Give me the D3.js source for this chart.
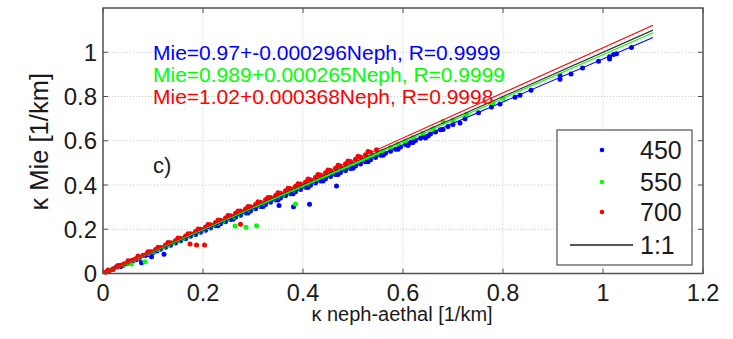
<!DOCTYPE html>
<html>
<head>
<meta charset="utf-8">
<script src="https://cdn.jsdelivr.net/npm/d3@7"></script>
<style>
  body { margin: 0; background: #fff; }
  text { font-family: "Liberation Sans", Arial, sans-serif; }
</style>
</head>
<body>
<svg id="chart" width="733" height="339"></svg>
<script>
// wavelengths and colours
const series = ["450", "550", "700"];
const colors = ["#0000ff", "#00ff00", "#ff0000"];

// linear fits (slope, offset) per wavelength
const fitSlope = [0.97, 0.989, 1.02];
const fitOffset = [-0.000296, 0.000265, 0.000368];
const fitLabels = [
  "Mie=0.97+-0.000296Neph, R=0.9999",
  "Mie=0.989+0.000265Neph, R=0.9999",
  "Mie=1.02+0.000368Neph, R=0.9998"
];
const fitRange = [0, 1.1];

const xTicks = [0, 0.2, 0.4, 0.6, 0.8, 1, 1.2];
const yTicks = [0, 0.2, 0.4, 0.6, 0.8, 1];

// points [neph, mie]
const pts450 = [
  [0.012,0.010],[0.02,0.018],[0.027,0.030],[0.035,0.030],[0.04,0.036],[0.048,0.044],[0.055,0.050],
  [0.06,0.056],[0.066,0.062],[0.072,0.066],[0.077,0.049],[0.084,0.080],[0.09,0.085],[0.097,0.076],
  [0.1,0.095],[0.108,0.102],[0.115,0.110],[0.122,0.087],[0.125,0.119],[0.135,0.128],[0.145,0.138],
  [0.155,0.148],[0.165,0.157],[0.175,0.168],[0.185,0.176],[0.195,0.186],[0.205,0.196],[0.215,0.206],
  [0.225,0.216],[0.235,0.225],[0.245,0.234],[0.255,0.244],[0.265,0.254],[0.275,0.263],[0.285,0.273],
  [0.295,0.283],[0.305,0.293],[0.315,0.303],[0.325,0.312],[0.335,0.322],[0.345,0.332],[0.352,0.307],
  [0.355,0.341],[0.365,0.351],[0.375,0.361],[0.381,0.302],[0.385,0.370],[0.395,0.380],[0.405,0.390],
  [0.413,0.313],[0.415,0.399],[0.425,0.409],[0.435,0.418],[0.445,0.428],[0.455,0.438],[0.465,0.447],
  [0.467,0.396],[0.475,0.456],[0.485,0.466],[0.495,0.475],[0.505,0.486],[0.515,0.495],[0.525,0.505],
  [0.535,0.514],[0.545,0.524],[0.555,0.534],[0.565,0.543],[0.575,0.553],[0.585,0.562],[0.595,0.572],
  [0.605,0.583],[0.615,0.592],[0.625,0.601],[0.635,0.611],[0.641,0.619],[0.655,0.630],[0.665,0.640],
  [0.675,0.650],[0.69,0.664],[0.70,0.674],[0.714,0.680],[0.724,0.700],[0.751,0.726],[0.777,0.752],
  [0.794,0.766],[0.824,0.797],[0.834,0.806],[0.856,0.828],[0.914,0.895],[0.914,0.878],[0.936,0.902],
  [0.959,0.929],[0.991,0.959],[1.013,0.980],[1.013,0.970],[1.021,0.990],[1.027,0.993],[1.057,1.022],
  [0.23,0.216],[0.26,0.245],[0.29,0.274],[0.32,0.303],[0.35,0.332],[0.38,0.361],[0.41,0.389],
  [0.44,0.418],[0.47,0.447],[0.50,0.476],[0.53,0.505],[0.56,0.534],[0.59,0.562],[0.62,0.592],
  [0.65,0.621],[0.68,0.651],[0.61,0.579],[0.645,0.612]
];
const pts550 = [
  [0.01,0.010],[0.02,0.020],[0.03,0.030],[0.04,0.040],[0.05,0.046],[0.057,0.043],[0.062,0.061],
  [0.07,0.069],[0.08,0.079],[0.084,0.053],[0.09,0.089],[0.1,0.099],[0.11,0.108],[0.12,0.119],
  [0.13,0.128],[0.14,0.139],[0.15,0.148],[0.16,0.158],[0.17,0.168],[0.18,0.178],[0.19,0.188],
  [0.20,0.198],[0.21,0.207],[0.22,0.218],[0.23,0.227],[0.24,0.237],[0.25,0.247],[0.26,0.257],
  [0.264,0.215],[0.27,0.267],[0.28,0.276],[0.286,0.209],[0.29,0.287],[0.30,0.296],[0.307,0.216],
  [0.31,0.306],[0.32,0.316],[0.33,0.326],[0.34,0.336],[0.35,0.346],[0.36,0.356],[0.37,0.366],
  [0.38,0.376],[0.385,0.314],[0.39,0.386],[0.40,0.396],[0.41,0.405],[0.42,0.415],[0.43,0.426],
  [0.44,0.435],[0.45,0.445],[0.46,0.455],[0.47,0.465],[0.48,0.475],[0.49,0.484],[0.50,0.495],
  [0.51,0.505],[0.52,0.514],[0.53,0.524],[0.54,0.534],[0.55,0.545],[0.56,0.554],[0.575,0.569],
  [0.59,0.584],[0.605,0.599],[0.62,0.614],[0.64,0.634],[0.66,0.654],[0.68,0.687],[0.70,0.693],
  [0.727,0.720],[0.78,0.772],[0.80,0.792]
];
const pts700 = [
  [0.005,0.006],[0.012,0.013],[0.02,0.021],[0.028,0.029],[0.035,0.037],[0.042,0.044],[0.05,0.052],
  [0.058,0.060],[0.065,0.067],[0.072,0.075],[0.08,0.083],[0.088,0.090],[0.095,0.098],[0.105,0.108],
  [0.115,0.118],[0.125,0.129],[0.135,0.139],[0.145,0.149],[0.155,0.159],[0.165,0.169],[0.174,0.133],
  [0.175,0.180],[0.185,0.190],[0.187,0.129],[0.195,0.200],[0.203,0.129],[0.205,0.210],[0.215,0.220],
  [0.225,0.231],[0.235,0.241],[0.245,0.251],[0.255,0.261],[0.265,0.272],[0.275,0.223],[0.275,0.282],
  [0.285,0.292],[0.295,0.302],[0.305,0.312],[0.315,0.322],[0.325,0.333],[0.335,0.343],[0.345,0.353],
  [0.355,0.363],[0.365,0.374],[0.375,0.384],[0.385,0.394],[0.395,0.404],[0.405,0.414],[0.415,0.424],
  [0.425,0.435],[0.435,0.445],[0.445,0.455],[0.455,0.466],[0.465,0.476],[0.475,0.486],[0.485,0.496],
  [0.495,0.506],[0.505,0.516],[0.515,0.527],[0.525,0.537],[0.535,0.548],[0.547,0.559],
  [0.01,0.016],[0.03,0.036],[0.05,0.058],[0.07,0.079],[0.09,0.098],[0.11,0.119],[0.13,0.140],
  [0.15,0.160],[0.17,0.180],[0.19,0.201],[0.21,0.221],[0.23,0.242],[0.25,0.262],[0.27,0.283],
  [0.29,0.303],[0.31,0.324],[0.33,0.344],[0.35,0.365],[0.37,0.385],[0.39,0.406],[0.41,0.427],
  [0.43,0.447],[0.45,0.468],[0.47,0.489],[0.49,0.509],[0.51,0.530],[0.53,0.551]
];
const points = [pts450, pts550, pts700];

var svg = d3.select("#chart"),
  margin = { top: 8, right: 30, bottom: 65.5, left: 103 },
  width = +svg.attr("width") - margin.left - margin.right,
  height = +svg.attr("height") - margin.top - margin.bottom;

var x = d3.scaleLinear().domain([0, 1.2]).range([margin.left, margin.left + width]);
var y = d3.scaleLinear().domain([0, 1.2]).range([margin.top + height, margin.top]);

const axisColor = "#505050";

// grid
svg.append("g")
  .selectAll("line")
  .data(xTicks.slice(1, -1))
  .join("line")
  .attr("x1", d => x(d)).attr("x2", d => x(d))
  .attr("y1", y(0)).attr("y2", y(1.2))
  .attr("stroke", "#c8c8c8")
  .attr("stroke-dasharray", "1,2");
svg.append("g")
  .selectAll("line")
  .data(yTicks.slice(1))
  .join("line")
  .attr("x1", x(0)).attr("x2", x(1.2))
  .attr("y1", d => y(d)).attr("y2", d => y(d))
  .attr("stroke", "#c8c8c8")
  .attr("stroke-dasharray", "1,2");

// points
points.forEach((pts, i) => {
  svg.append("g")
    .selectAll("circle")
    .data(pts)
    .join("circle")
    .attr("cx", d => x(d[0]))
    .attr("cy", d => y(d[1]))
    .attr("r", 2.5)
    .attr("fill", colors[i]);
});

// 1:1 line
svg.append("line")
  .attr("x1", x(fitRange[0])).attr("y1", y(fitRange[0]))
  .attr("x2", x(fitRange[1])).attr("y2", y(fitRange[1]))
  .attr("stroke", "#333")
  .attr("stroke-width", 1.2);

// fit lines
fitSlope.forEach((a, i) => {
  const b = fitOffset[i];
  svg.append("line")
    .attr("x1", x(fitRange[0])).attr("y1", y(a * fitRange[0] + b))
    .attr("x2", x(fitRange[1])).attr("y2", y(a * fitRange[1] + b))
    .attr("stroke", colors[i])
    .attr("stroke-width", 1.1);
});

// box
svg.append("rect")
  .attr("x", x(0)).attr("y", y(1.2))
  .attr("width", x(1.2) - x(0)).attr("height", y(0) - y(1.2))
  .attr("fill", "none")
  .attr("stroke", axisColor)
  .attr("stroke-width", 1.5);

// inward ticks on all sides
const tl = 5;
svg.append("g")
  .selectAll("path")
  .data(xTicks)
  .join("path")
  .attr("d", d => "M" + x(d) + "," + y(0) + "v" + -tl + "M" + x(d) + "," + y(1.2) + "v" + tl)
  .attr("stroke", axisColor);
svg.append("g")
  .selectAll("path")
  .data(yTicks)
  .join("path")
  .attr("d", d => "M" + x(0) + "," + y(d) + "h" + tl + "M" + x(1.2) + "," + y(d) + "h" + -tl)
  .attr("stroke", axisColor);

// tick labels
svg.append("g")
  .selectAll("text")
  .data(xTicks)
  .join("text")
  .attr("x", d => x(d))
  .attr("y", y(0) + 27)
  .attr("text-anchor", "middle")
  .attr("font-size", 23.5)
  .attr("fill", "#1a1a1a")
  .text(d => d3.format("")(d));
svg.append("g")
  .selectAll("text")
  .data(yTicks)
  .join("text")
  .attr("x", x(0) - 6)
  .attr("y", d => y(d) + 8.5)
  .attr("text-anchor", "end")
  .attr("font-size", 24)
  .attr("fill", "#1a1a1a")
  .text(d => d3.format("")(d));

// axis labels
svg.append("text")
  .attr("x", x(0.6) - 1)
  .attr("y", 321)
  .attr("text-anchor", "middle")
  .attr("font-size", 20)
  .attr("fill", "#1a1a1a")
  .text("κ neph-aethal [1/km]");
svg.append("text")
  .attr("transform", "translate(48," + (y(0.6) + 1) + ") rotate(-90)")
  .attr("text-anchor", "middle")
  .attr("font-size", 25.5)
  .attr("fill", "#1a1a1a")
  .text("κ Mie [1/km]");

// fit equations
fitLabels.forEach((t, i) => {
  svg.append("text")
    .attr("x", x(0.1))
    .attr("y", 60 + i * 22)
    .attr("font-size", 21)
    .attr("fill", colors[i])
    .text(t);
});

// panel label
svg.append("text")
  .attr("x", x(0.1))
  .attr("y", 173)
  .attr("font-size", 22)
  .attr("fill", "#1a1a1a")
  .text("c)");

// legend
var legend = svg.append("g").attr("transform", "translate(557,130)");
legend.append("rect")
  .attr("width", 135).attr("height", 135)
  .attr("fill", "#fff")
  .attr("stroke", axisColor)
  .attr("stroke-width", 1.2);
const rowY = [20, 52, 82, 115];
series.forEach((s, i) => {
  legend.append("circle")
    .attr("cx", 45).attr("cy", rowY[i]).attr("r", 2.3).attr("fill", colors[i]);
  legend.append("text")
    .attr("x", 83).attr("y", rowY[i] + 9)
    .attr("font-size", 25).attr("fill", "#1a1a1a")
    .text(s);
});
legend.append("line")
  .attr("x1", 13).attr("x2", 76)
  .attr("y1", rowY[3]).attr("y2", rowY[3])
  .attr("stroke", "#555").attr("stroke-width", 2);
legend.append("text")
  .attr("x", 83).attr("y", rowY[3] + 9)
  .attr("font-size", 25).attr("fill", "#1a1a1a")
  .text("1:1");
</script>
</body>
</html>
